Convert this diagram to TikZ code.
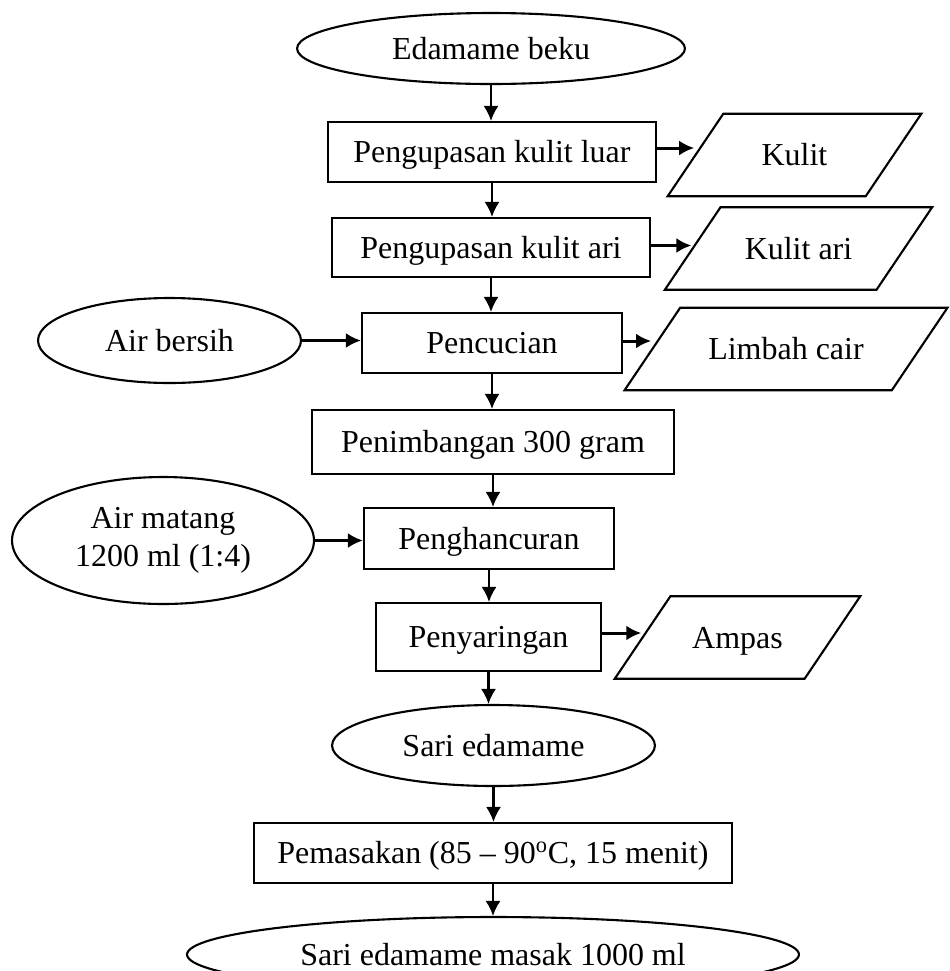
\documentclass[tikz,border=0pt]{standalone}
\usepackage{fontspec}
\setmainfont{Liberation Serif}
\usepackage{tikz}
\usetikzlibrary{arrows.meta}
\usetikzlibrary{shapes.geometric}
\tikzset{>={Latex[length=3mm,width=3mm]}}
\tikzstyle{proc}=[draw,rectangle,line width=1.2pt,inner sep=0pt,text height=12pt,text depth=0pt]
\tikzstyle{term}=[draw,ellipse,line width=1.2pt,inner sep=0pt,text height=12pt,text depth=0pt]
\tikzstyle{waste}=[draw,trapezium,trapezium left angle=56,trapezium right angle=124,
                   line width=1.2pt,inner ysep=17.5pt,text height=12pt,text depth=0pt]
\tikzstyle{flow}=[->,line width=1.2pt]
\tikzstyle{side}=[->,line width=1.7pt]

\begin{document}
\begin{tikzpicture}[x=0.02cm,y=-0.02cm,font=\fontsize{18.2}{21.5}\selectfont]
  \useasboundingbox (0,0) rectangle (950,971);

  % main line
  \node[term,minimum width=7.76cm,minimum height=1.42cm] (beku) at (491,48.5) {Edamame beku};
  \node[proc,minimum width=6.56cm,minimum height=1.2cm] (luar) at (492,152) {Pengupasan kulit luar};
  \node[proc,minimum width=6.36cm,minimum height=1.18cm] (ari) at (491,247.5) {Pengupasan kulit ari};
  \node[proc,minimum width=5.2cm,minimum height=1.2cm] (cuci) at (492,343) {Pencucian};
  \node[proc,minimum width=7.24cm,minimum height=1.28cm] (timbang) at (493,442) {Penimbangan 300 gram};
  \node[proc,minimum width=5.0cm,minimum height=1.22cm] (hancur) at (489,538.5) {Penghancuran};
  \node[proc,minimum width=4.5cm,minimum height=1.36cm] (saring) at (488.5,637) {Penyaringan};
  \node[term,minimum width=6.46cm,minimum height=1.62cm] (sari) at (493.5,745.5) {Sari edamame};
  \node[proc,minimum width=9.56cm,minimum height=1.2cm] (masak) at (493,853) {Pemasakan (85 -- 90\textsuperscript{o}C, 15 menit)};
  \node[term,minimum width=12.24cm,minimum height=1.5cm] (hasil) at (493,954.5) {Sari edamame masak 1000 ml};

  % inputs
  \node[term,minimum width=5.26cm,minimum height=1.7cm] (bersih) at (169.5,340.5) {Air bersih};
  \node[term,minimum width=6.04cm,minimum height=2.54cm,align=center,text height={},text depth={}] (matang) at (163,540.5) {Air matang\\1200 ml (1:4)};

  % outputs
  \node[waste,inner xsep=21.8pt] (kulit) at (794.5,155) {Kulit};
  \node[waste,inner xsep=13.8pt] (kulitari) at (798.5,248.5) {Kulit ari};
  \node[waste,inner xsep=16pt] (limbah) at (786,349) {Limbah cair};
  \node[waste,inner xsep=12.4pt] (ampas) at (737.5,637.5) {Ampas};

  \draw[flow] (beku) -- (beku |- luar.north);
  \draw[flow] (luar) -- (luar |- ari.north);
  \draw[flow] (ari) -- (ari |- cuci.north);
  \draw[flow] (cuci) -- (cuci |- timbang.north);
  \draw[flow] (timbang) -- (timbang |- hancur.north);
  \draw[flow] (hancur) -- (hancur |- saring.north);
  \draw[flow] (saring) -- (saring |- sari.north);
  \draw[flow] (sari) -- (sari |- masak.north);
  \draw[flow] (masak) -- (masak |- hasil.north);

  \draw[side] ([yshift=0.08cm]luar.east) -- ([yshift=0.08cm]luar.east -| kulit.west);
  \draw[side] ([yshift=0.04cm]ari.east) -- ([yshift=0.04cm]ari.east -| kulitari.west);
  \draw[side] ([yshift=0.04cm]cuci.east) -- ([yshift=0.04cm]cuci.east -| limbah.west);
  \draw[side] ([yshift=0.08cm]saring.east) -- ([yshift=0.08cm]saring.east -| ampas.west);
  \draw[side] (bersih.east) -- (bersih.east -| cuci.west);
  \draw[side] (matang.east) -- (matang.east -| hancur.west);
\end{tikzpicture}
\end{document}
